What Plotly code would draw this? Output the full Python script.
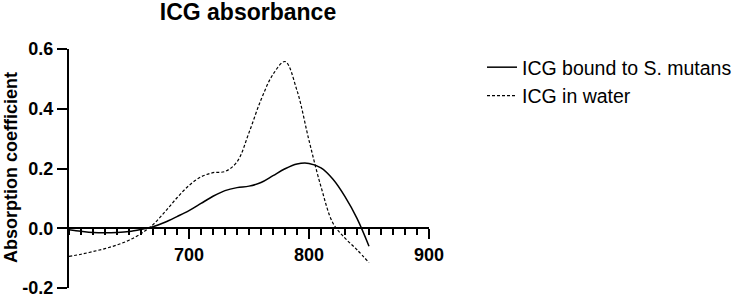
import plotly.graph_objects as go

# ---- data ----
wavelength = [600, 610, 620, 630, 640, 650, 660, 670, 680, 690, 700, 710, 720,
              730, 740, 750, 760, 770, 780, 790, 800, 810, 820, 830, 840, 850]
icg_bound = [-0.005, -0.010, -0.014, -0.015, -0.014, -0.011, -0.004, 0.005,
             0.020, 0.039, 0.059, 0.083, 0.107, 0.126, 0.136, 0.141, 0.153,
             0.176, 0.199, 0.215, 0.217, 0.202, 0.164, 0.106, 0.033, -0.060]
icg_water = [-0.094, -0.087, -0.078, -0.068, -0.056, -0.040, -0.018, 0.012,
             0.055, 0.102, 0.143, 0.172, 0.186, 0.190, 0.222, 0.320, 0.430,
             0.515, 0.558, 0.461, 0.294, 0.139, 0.017, -0.033, -0.072, -0.115]

series_names = ["ICG bound to S. mutans", "ICG in water"]
title_text = "ICG absorbance"
y_title = "Absorption coefficient"
x_tickvals = [700, 800, 900]
x_ticktext = ["700", "800", "900"]
y_tickvals = [-0.2, 0.0, 0.2, 0.4, 0.6]
y_ticktext = ["-0.2", "0.0", "0.2", "0.4", "0.6"]

FONT = "Liberation Sans, Arial, Helvetica, sans-serif"

fig = go.Figure()
fig.add_trace(go.Scatter(x=wavelength, y=icg_bound, mode="lines",
                         name=series_names[0],
                         line=dict(color="black", width=1.5, shape="spline")))
fig.add_trace(go.Scatter(x=wavelength, y=icg_water, mode="lines",
                         name=series_names[1],
                         line=dict(color="black", width=1.2, shape="spline",
                                   dash="3px,2px")))

W, H = 732, 295
PW, PH = 360, 239
L, T = 69, 49
R = W - L - PW
B = H - T - PH


def px_x(wx):
    """pixel x -> paper fraction"""
    return (wx - L) / PW


def px_y(wy):
    """pixel y -> paper fraction"""
    return (T + PH - wy) / PH


fig.update_layout(
    width=W, height=H,
    margin=dict(l=L, r=R, t=T, b=B, pad=0, autoexpand=False),
    paper_bgcolor="white", plot_bgcolor="white",
    font=dict(family=FONT, color="black"),
    title=dict(text=title_text, x=px_x(248), xref="paper", xanchor="center",
               y=1 - 11.5 / H, yref="container", yanchor="middle",
               font=dict(size=23, weight="bold", family=FONT, color="black")),
    showlegend=True,
    legend=dict(x=px_x(482), xanchor="left",
                y=px_y(48), yanchor="top",
                font=dict(size=19.5, family=FONT, color="black"),
                bgcolor="rgba(0,0,0,0)", itemwidth=30, tracegroupgap=0),
    xaxis=dict(range=[600, 900], showgrid=False, zeroline=False,
               showline=True, linecolor="black", linewidth=2,
               anchor="free", position=0.25, automargin=False,
               tickmode="array", tickvals=x_tickvals, ticktext=x_ticktext,
               ticks="outside", ticklen=10, tickwidth=2, tickcolor="black",
               tickfont=dict(size=18, weight="bold", family=FONT, color="black"),
               minor=dict(dtick=10, tick0=600, ticks="outside", ticklen=6,
                          tickwidth=2, tickcolor="black"),
               fixedrange=True),
    yaxis=dict(range=[-0.2, 0.6], showgrid=False, zeroline=False,
               showline=True, linecolor="black", linewidth=2, automargin=False,
               tickmode="array", tickvals=y_tickvals, ticktext=y_ticktext,
               ticks="outside", ticklen=10, tickwidth=2, tickcolor="black",
               ticklabeloverflow="allow",
               tickfont=dict(size=18, weight="bold", family=FONT, color="black"),
               fixedrange=True),
    annotations=[dict(text=y_title, textangle=-90, xref="paper", yref="paper",
                      x=px_x(10.5), y=px_y(167.5),
                      xanchor="center", yanchor="middle", showarrow=False,
                      font=dict(size=18, weight="bold", family=FONT,
                                color="black"))],
)

# remove the default 8px page margin so the figure fills the window exactly
fig.write_html("out.html",
               config={"displayModeBar": False},
               post_script="document.body.style.margin='0';"
                           "document.body.style.overflow='hidden';")
